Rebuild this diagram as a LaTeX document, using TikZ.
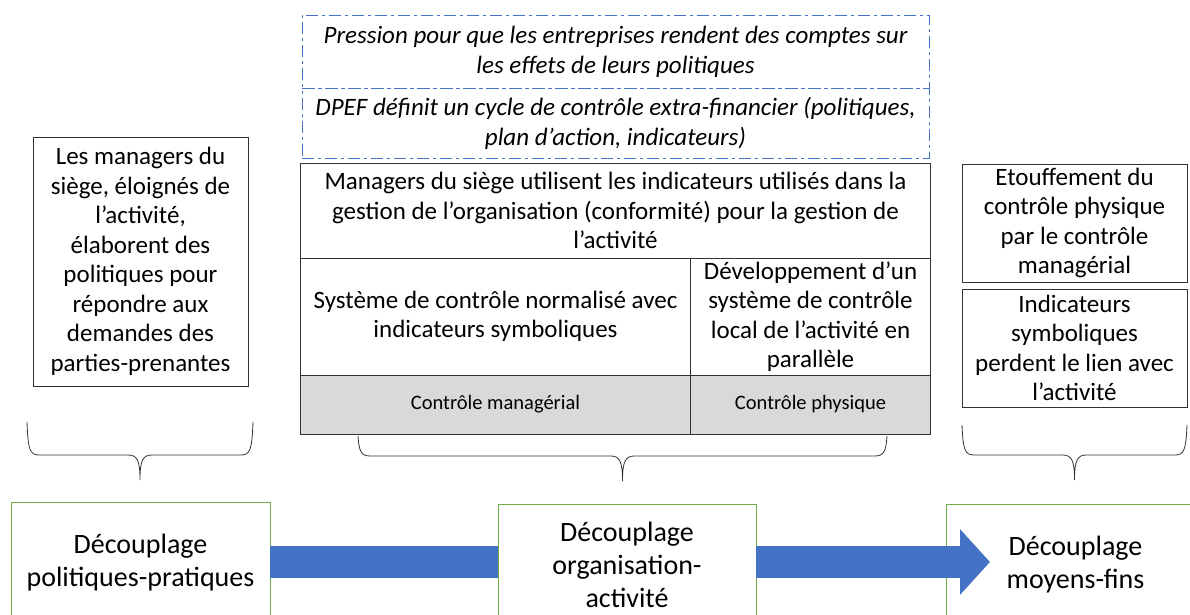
\documentclass[tikz,border=0pt]{standalone}
\usepackage{fontspec}
\setmainfont{Carlito}
\usetikzlibrary{positioning}
\usetikzlibrary{arrows.meta}
\definecolor{bleu}{RGB}{68,114,196}
\definecolor{vert}{RGB}{112,173,71}
\definecolor{gris}{RGB}{217,217,217}
\definecolor{trait}{RGB}{50,50,50}
\tikzset{%
  mybox/.style={rectangle, draw=trait, line width=0.9pt, inner sep=0pt, outer sep=0pt,
    align=center, font=\fontsize{25}{29.5}\selectfont},
  mydash/.style={mybox, draw=bleu, dash pattern=on 12pt off 4pt on 3pt off 4pt,
    font=\itshape\fontsize{25}{30}\selectfont},
  mygrey/.style={mybox, fill=gris, font=\fontsize{20.5}{24}\selectfont},
  mygreen/.style={mybox, draw=vert, font=\fontsize{28}{33}\selectfont},
  mybrace/.style={draw=trait, line width=0.8pt},
  myarrow/.style={draw=bleu, line width=32pt, -{Triangle[length=30pt, width=64pt]}}
}
% accolade : x gauche, x droite, y haut, y pointe
\newcommand{\accolade}[4]{%
  \draw[mybrace] (#1,#3) .. controls (#1+1,#4-30) and (#1+3,#4-25) .. (#1+12,#4-25)
    -- ({(#1+#2)/2-12},#4-25) .. controls ({(#1+#2)/2-3},#4-25) and ({(#1+#2)/2},#4-20) .. ({(#1+#2)/2},#4)
    .. controls ({(#1+#2)/2},#4-20) and ({(#1+#2)/2+3},#4-25) .. ({(#1+#2)/2+12},#4-25)
    -- (#2-12,#4-25) .. controls (#2-3,#4-25) and (#2-1,#4-30) .. (#2,#3);
}

\begin{document}
\begin{tikzpicture}[x=1pt, y=-1pt]
  \useasboundingbox (0,0) rectangle (1190,615);

  % centre
  \node[mydash, minimum width=627pt, minimum height=73pt] (pres) at (615.5,51.5)
    {Pression pour que les entreprises rendent des comptes sur\\les effets de leurs politiques};
  \node[mydash, minimum width=627pt, minimum height=70pt, below=0pt of pres] (dpef)
    {DPEF définit un cycle de contrôle extra-financier (politiques,\\plan d’action, indicateurs)};
  \node[mybox, minimum width=630pt, minimum height=95pt, below=5pt of dpef] (man)
    {Managers du siège utilisent les indicateurs utilisés dans la\\gestion de l’organisation (conformité) pour la gestion de\\l’activité};
  \node[mybox, minimum width=390pt, minimum height=117pt, below right=0pt and 0pt of man.south west] (sys)
    {Système de contrôle normalisé avec\\indicateurs symboliques};
  \node[mybox, minimum width=240pt, minimum height=117pt, right=0pt of sys] (dev)
    {Développement d’un\\système de contrôle\\local de l’activité en\\parallèle};
  \node[mygrey, minimum width=390pt, minimum height=59pt, below=0pt of sys] (cm) {Contrôle managérial};
  \node[mygrey, minimum width=240pt, minimum height=59pt, below=0pt of dev] (cp) {Contrôle physique};

  % gauche
  \node[mybox, minimum width=215pt, minimum height=249pt] (gauche) at (140.5,261.5)
    {Les managers du\\siège, éloignés de\\l’activité,\\élaborent des\\politiques pour\\répondre aux\\demandes des\\parties-prenantes};

  % droite
  \node[mybox, minimum width=225pt, minimum height=118pt] (etouf) at (1074.5,223)
    {Etouffement du\\contrôle physique\\par le contrôle\\managérial};
  \node[mybox, minimum width=225pt, minimum height=118pt, below=7pt of etouf] (indic)
    {Indicateurs\\symboliques\\perdent le lien avec\\l’activité};

  % accolades
  \accolade{27}{253}{422}{480}
  \accolade{358}{887}{436}{481}
  \accolade{962}{1187}{425}{480}

  % decouplages
  \node[mygreen, minimum width=259pt, minimum height=122pt] (d1) at (140.5,563)
    {Découplage\\politiques-pratiques};
  \node[mygreen, minimum width=258pt, minimum height=122pt] (d2) at (627,565)
    {Découplage\\organisation-\\activité};
  \node[mygreen, minimum width=259pt, minimum height=122pt] (d3) at (1075.5,565)
    {Découplage\\moyens-fins};

  \coordinate (tip) at (990,562);
  \draw[bleu, line width=32pt] (d1.east |- tip) -- (d2.west |- tip);
  \draw[myarrow] (d2.east |- tip) -- (tip);
\end{tikzpicture}
\end{document}
